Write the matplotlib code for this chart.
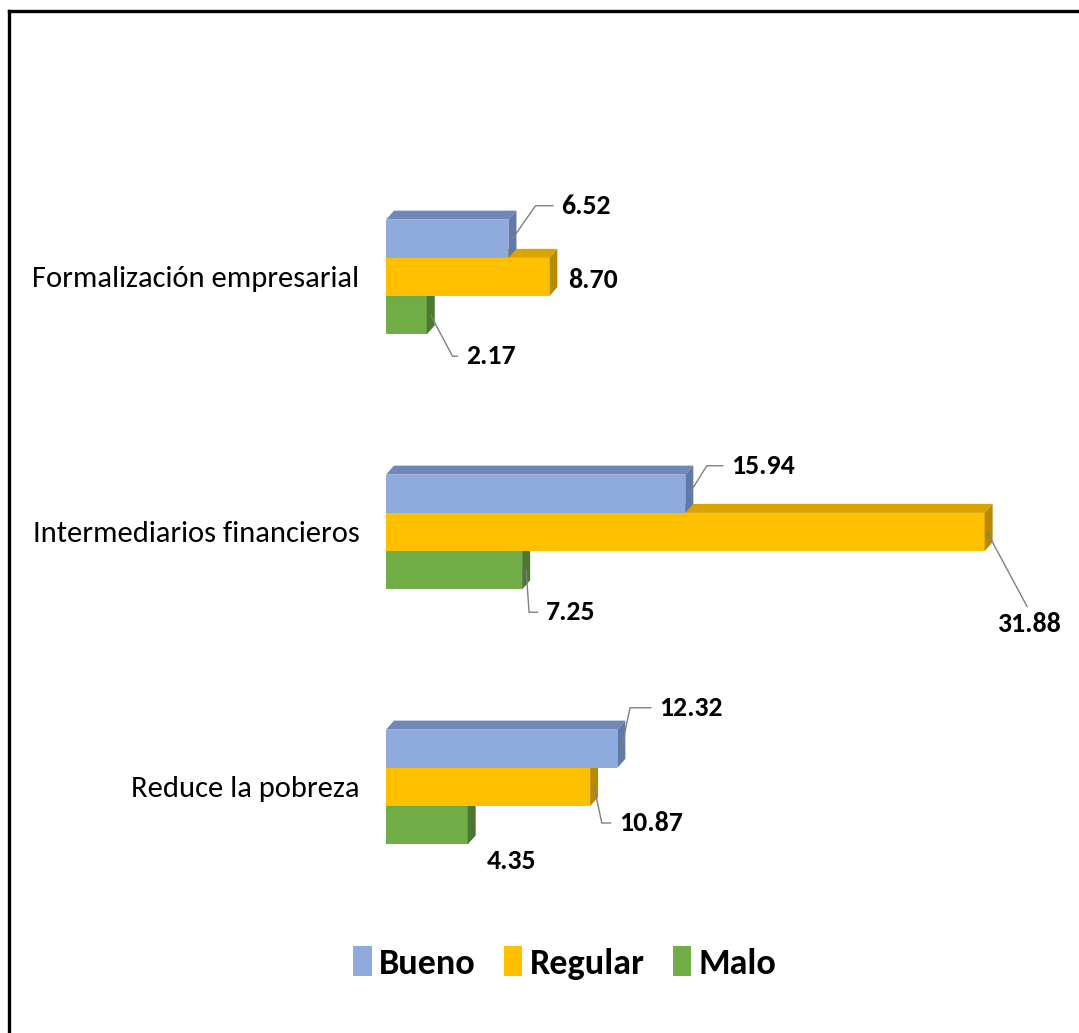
import matplotlib.pyplot as plt
from matplotlib.patches import Polygon
from matplotlib.lines import Line2D

plt.rcParams['font.family'] = ['Carlito', 'Roboto Condensed', 'DejaVu Sans']

categories = ['Formalización empresarial', 'Intermediarios financieros', 'Reduce la pobreza']
series = ['Bueno', 'Regular', 'Malo']
bueno = [6.52, 15.94, 12.32]
regular = [8.70, 31.88, 10.87]
malo = [2.17, 7.25, 4.35]

front = ['#8faadc', '#ffc000', '#70ad47']
topc = ['#7088b8', '#d9a300', '#5b8f3a']
sidec = ['#6079a6', '#b88a00', '#4a7830']

# label offsets in pixels from bar end (dx, dy, leader angle or None)
lab_off = [
    [(49, 33, 55), (42, 28, 58), (38, 41, 78)],
    [(19, -3, None), (43, -80, 'down'), (25, -36, -78)],
    [(35, -41, -62), (20, -42, -86), (19, -36, None)],
]

W, H = 1079, 1033
fig = plt.figure(figsize=(W / 100, H / 100), dpi=100)
ax = fig.add_axes([386 / W, 118.5 / H, 676 / W, 765 / H])
ax.set_xlim(0, 36)
ax.set_ylim(2.5, -0.5)

bh = 0.15
ddx = 8 / 18.79
ddy = 9 / 255
handles = []
vals = [bueno, regular, malo]
# draw bottom series first so upper bars cover the top faces
for s in [2, 1, 0]:
    z = 2 + (2 - s)
    yc = [i + (s - 1) * bh for i in range(len(categories))]
    b = ax.barh(yc, vals[s], height=bh, color=front[s], zorder=z, label=series[s])
    handles.append(b)
    for y, v in zip(yc, vals[s]):
        yt, yb = y - bh / 2, y + bh / 2
        ax.add_patch(Polygon([(0, yt), (v, yt), (v + ddx, yt - ddy), (ddx, yt - ddy)],
                             closed=True, fc=topc[s], ec='none', zorder=z))
        ax.add_patch(Polygon([(v, yt), (v + ddx, yt - ddy), (v + ddx, yb - ddy), (v, yb)],
                             closed=True, fc=sidec[s], ec='none', zorder=z))
    for i, (y, v) in enumerate(zip(yc, vals[s])):
        ox, oy, ang = lab_off[s][i]
        txt = f'{v:.2f}'
        if ang is None:
            ax.annotate(txt, (v, y), xytext=(ox, oy), textcoords='offset pixels',
                        ha='left', va='center', fontsize=20, fontweight='bold', zorder=10)
        elif ang == 'down':
            ax.annotate(txt, (v + ddx * 0.3, y), xytext=(ox, oy), textcoords='offset pixels',
                        ha='center', va='top', fontsize=20, fontweight='bold', zorder=10,
                        arrowprops=dict(arrowstyle='-', color='#808080', lw=1,
                                        shrinkA=2, shrinkB=0, relpos=(0.5, 1)))
        else:
            ax.annotate(txt, (v + ddx * 0.5, y), xytext=(ox, oy), textcoords='offset pixels',
                        ha='left', va='center', fontsize=20, fontweight='bold', zorder=10,
                        arrowprops=dict(arrowstyle='-', color='#808080', lw=1,
                                        shrinkA=4, shrinkB=0, relpos=(0, 0.5),
                                        connectionstyle=f'angle,angleA=0,angleB={ang},rad=0'))

ax.set_yticks(range(len(categories)))
ax.set_yticklabels(categories, fontsize=22)
ax.tick_params(axis='y', length=0, pad=19)
ax.set_xticks([])
for sp in ax.spines.values():
    sp.set_visible(False)

fig.legend(handles[::-1], series, loc='center', bbox_to_anchor=(565 / W, 1 - 963 / H),
           ncol=3, frameon=False, prop={'weight': 'bold', 'size': 26},
           handlelength=0.5, handleheight=0.9, handletextpad=0.2, columnspacing=0.8)

fig.add_artist(Line2D([8.5 / W, 8.5 / W], [0, 1 - 11 / H], color='black', lw=2.4))
fig.add_artist(Line2D([8.5 / W, 1], [1 - 11 / H, 1 - 11 / H], color='black', lw=2.4))

fig.savefig('out.png', dpi=100)
